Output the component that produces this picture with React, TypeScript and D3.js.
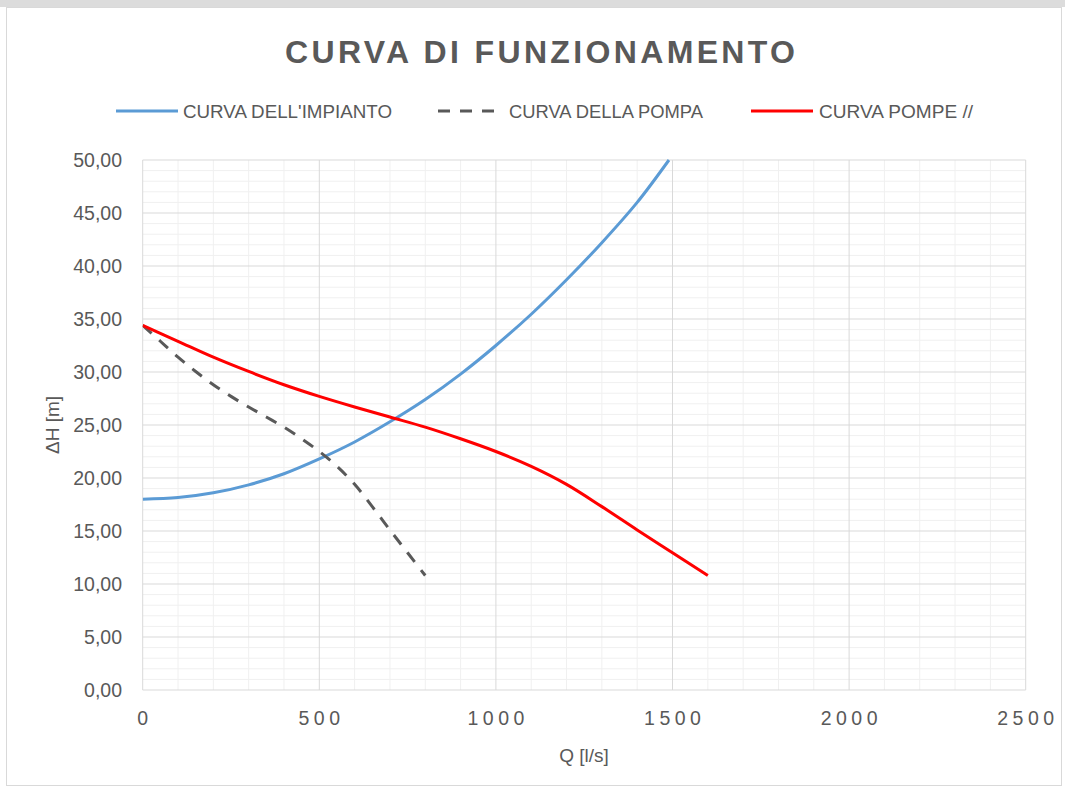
import * as d3 from 'd3';

// Axis ticks
const X_TICKS = [0, 500, 1000, 1500, 2000, 2500];
const Y_TICKS = [0, 5, 10, 15, 20, 25, 30, 35, 40, 45, 50];

// Curva dell'impianto
const Q_IMPIANTO = [0, 100, 200, 300, 400, 500, 600, 700, 800, 900, 1000, 1100, 1200, 1300, 1400, 1490];
const H_IMPIANTO = [18.0, 18.15, 18.6, 19.35, 20.4, 21.8, 23.4, 25.3, 27.4, 29.8, 32.5, 35.45, 38.7, 42.2, 46.0, 50.0];

// Curva della pompa (singola)
const Q_POMPA = [0, 50, 100, 150, 200, 250, 300, 350, 400, 450, 500, 550, 600, 650, 700, 750, 800];
const H_POMPA = [34.4, 32.9, 31.4, 30.05, 28.8, 27.7, 26.7, 25.75, 24.8, 23.7, 22.5, 21.1, 19.4, 17.3, 15.1, 12.95, 10.8];

// Curva pompe in parallelo
const Q_POMPE = [0, 100, 200, 300, 400, 500, 600, 700, 800, 900, 1000, 1100, 1200, 1300, 1400, 1500, 1600];
const H_POMPE = [34.4, 32.9, 31.4, 30.05, 28.8, 27.7, 26.7, 25.75, 24.8, 23.7, 22.5, 21.1, 19.4, 17.3, 15.1, 12.95, 10.8];

const W = 1065;
const H = 789;
const plot = { left: 142.7, right: 1025.7, top: 160, bottom: 690 };

const TEXT = '#595959';
const FONT = "'Liberation Sans', Arial, sans-serif";
const BLUE = '#5B9BD5';
const RED = '#FF0000';
const DARK = '#595959';

const it = d3.formatLocale({ decimal: ',', thousands: '.', grouping: [3], currency: ['€', ''] });
const fmtY = it.format('.2f');

export default function App() {
  const x = d3.scaleLinear().domain([0, 2500]).range([plot.left, plot.right]);
  const y = d3.scaleLinear().domain([0, 50]).range([plot.bottom, plot.top]);

  const line = d3.line<[number, number]>()
    .x((d) => x(d[0]))
    .y((d) => y(d[1]))
    .curve(d3.curveCatmullRom.alpha(0.5));

  const zip = (a: number[], b: number[]) => a.map((v, i) => [v, b[i]] as [number, number]);

  const minorX = d3.range(0, 2501, 100).filter((v) => v % 500 !== 0);
  const minorY = d3.range(0, 51, 1).filter((v) => v % 5 !== 0);

  const legend = [
    { label: "CURVA DELL'IMPIANTO", x1: 116, x2: 178, tx: 183, tw: 209, color: BLUE, dash: undefined },
    { label: 'CURVA DELLA POMPA', x1: 438, x2: 503, tx: 509, tw: 194, color: DARK, dash: '12 10' },
    { label: 'CURVA POMPE //', x1: 751, x2: 813, tx: 819, tw: 154, color: RED, dash: undefined },
  ];

  const xLs = 4.5;

  return (
    <svg
      width={W}
      height={H}
      style={{ position: 'absolute', left: 0, top: 0, background: '#fff' }}
      fontFamily={FONT}
    >
      <defs>
        <clipPath id="plotClip">
          <rect x={plot.left} y={plot.top - 2} width={plot.right - plot.left} height={plot.bottom - plot.top + 2} />
        </clipPath>
      </defs>
      <rect x={0} y={0} width={W} height={7} fill="#dcdcdc" />
      <rect x={6.5} y={7.5} width={W - 10} height={H - 11} fill="#fff" stroke="#d9d9d9" />

      {/* title */}
      <text
        x={540}
        y={63}
        textAnchor="middle"
        fontSize={32}
        fontWeight="bold"
        fill={TEXT}
        textLength={510}
        lengthAdjust="spacing"
      >
        CURVA DI FUNZIONAMENTO
      </text>

      {/* legend */}
      {legend.map((l) => (
        <g key={l.label}>
          <line x1={l.x1} x2={l.x2} y1={111} y2={111} stroke={l.color} strokeWidth={3} strokeDasharray={l.dash} />
          <text x={l.tx} y={111} dy="0.36em" fontSize={18.5} fill={TEXT} textLength={l.tw} lengthAdjust="spacingAndGlyphs">
            {l.label}
          </text>
        </g>
      ))}

      {/* grid */}
      {minorY.map((v) => (
        <line key={`my${v}`} x1={plot.left} x2={plot.right} y1={y(v)} y2={y(v)} stroke="#f0f0f0" strokeWidth={1} />
      ))}
      {minorX.map((v) => (
        <line key={`mx${v}`} x1={x(v)} x2={x(v)} y1={plot.top} y2={plot.bottom} stroke="#f0f0f0" strokeWidth={1} />
      ))}
      {Y_TICKS.map((v) => (
        <line key={`gy${v}`} x1={plot.left} x2={plot.right} y1={y(v)} y2={y(v)} stroke="#d9d9d9" strokeWidth={1} />
      ))}
      {X_TICKS.map((v) => (
        <line key={`gx${v}`} x1={x(v)} x2={x(v)} y1={plot.top} y2={plot.bottom} stroke="#d9d9d9" strokeWidth={1} />
      ))}

      {/* y tick labels */}
      {Y_TICKS.map((v) => (
        <text key={`ty${v}`} x={122} y={y(v)} dy="0.36em" textAnchor="end" fontSize={19.5} fill={TEXT}>
          {fmtY(v)}
        </text>
      ))}
      {/* x tick labels */}
      {X_TICKS.map((v) => (
        <text
          key={`tx${v}`}
          x={x(v) + xLs / 2}
          y={718}
          dy="0.36em"
          textAnchor="middle"
          fontSize={19.5}
          letterSpacing={xLs}
          fill={TEXT}
        >
          {v}
        </text>
      ))}

      {/* axis titles */}
      <text x={584} y={755} dy="0.36em" textAnchor="middle" fontSize={19} fill={TEXT}>
        Q [l/s]
      </text>
      <text
        transform={`translate(52,${(plot.top + plot.bottom) / 2}) rotate(-90)`}
        dy="0.36em"
        textAnchor="middle"
        fontSize={19}
        fill={TEXT}
      >
        ΔH [m]
      </text>

      {/* curves */}
      <g clipPath="url(#plotClip)" fill="none" strokeWidth={3}>
        <path d={line(zip(Q_IMPIANTO, H_IMPIANTO)) ?? ''} stroke={BLUE} />
        <path d={line(zip(Q_POMPA, H_POMPA)) ?? ''} stroke={DARK} strokeDasharray="12 10" />
        <path d={line(zip(Q_POMPE, H_POMPE)) ?? ''} stroke={RED} />
      </g>
    </svg>
  );
}
